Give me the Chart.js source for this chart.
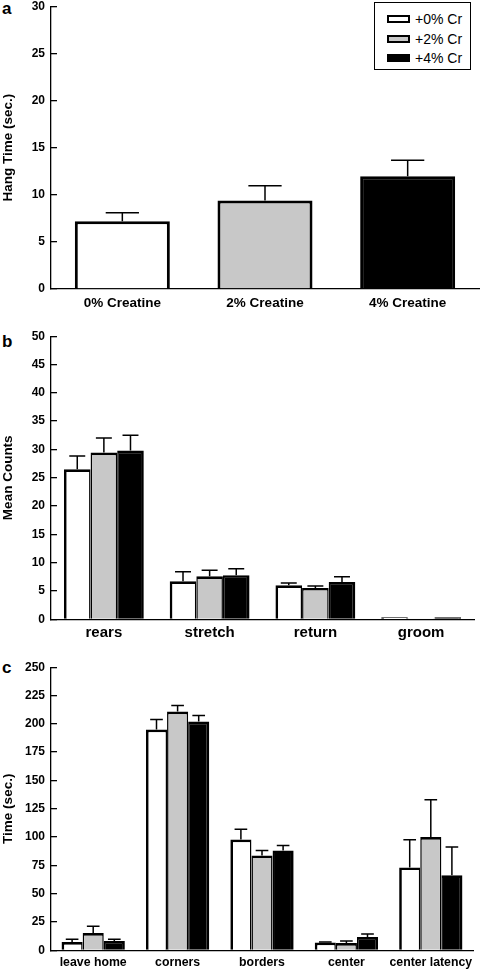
<!DOCTYPE html>
<html>
<head>
<meta charset="utf-8">
<script src="https://cdn.jsdelivr.net/npm/chart.js@4.4.1/dist/chart.umd.min.js"></script>
<style>
  html, body { margin: 0; padding: 0; background: #fff; }
  body { width: 480px; height: 970px; position: relative; overflow: hidden; font-family: "Liberation Sans", Arial, sans-serif; }
  .panel { position: absolute; left: 0; width: 480px; }
  .letter { position: absolute; left: 2px; font-size: 17px; font-weight: bold; line-height: 1; }
  #legend { position: absolute; left: 374px; top: 2px; width: 95px; height: 66px; border: 1.5px solid #000; background: #fff; }
  .row { position: absolute; left: 12px; height: 20px; font-size: 14px; display: flex; align-items: center; }
  .sw { width: 19px; height: 4px; border: 2px solid #000; margin-right: 5px; }
</style>
</head>
<body>
<div class="letter" style="top:0px">a</div>
<div class="letter" style="top:333px">b</div>
<div class="letter" style="top:659px">c</div>

<div class="panel" style="top:-13px;height:330px"><canvas id="chartA"></canvas></div>
<div class="panel" style="top:316.7px;height:330.3px"><canvas id="chartB"></canvas></div>
<div class="panel" style="top:647.7px;height:330.3px"><canvas id="chartC"></canvas></div>
<div id="legend"></div>

<script>
// series
const seriesNames = ['+0% Cr', '+2% Cr', '+4% Cr'];
const seriesColors = ['#ffffff', '#c8c8c8', '#000000'];

// panel a: hang time
const hangCategories = ['0% Creatine', '2% Creatine', '4% Creatine'];
const hangTime = [7.2, 9.4, 11.95];
const hangTimeErr = [0.9, 1.55, 1.7];

// panel b: behaviour counts
const behaviorCategories = ['rears', 'stretch', 'return', 'groom'];
const counts0 = [26.5, 6.7, 6.0, 0.35];
const counts2 = [29.45, 7.6, 5.55, 0.15];
const counts4 = [29.8, 7.8, 6.6, 0.35];
const counts0Err = [2.35, 1.7, 0.4, 0];
const counts2Err = [2.55, 1.05, 0.35, 0];
const counts4Err = [2.7, 1.15, 0.9, 0];

// panel c: open field times
const fieldCategories = ['leave home', 'corners', 'borders', 'center', 'center latency'];
const time0 = [7.3, 195, 97.9, 6.8, 73.2];
const time2 = [15.3, 210.9, 83.8, 6.5, 100];
const time4 = [8.2, 202, 88.2, 11.8, 66.2];
const time0Err = [2.4, 8.8, 8.9, 0.5, 24.5];
const time2Err = [5.9, 5.3, 4.4, 1.7, 33];
const time4Err = [1.6, 5.4, 4.4, 2.7, 25];

Chart.defaults.font.family = '"Liberation Sans", Arial, sans-serif';
Chart.defaults.color = '#000';

// draws upward error bars from each bar top
const errorBars = {
  id: 'errorBars',
  afterDatasetsDraw(chart, args, opts) {
    const ctx = chart.ctx;
    const y = chart.scales.y;
    ctx.save();
    ctx.strokeStyle = '#000';
    ctx.lineWidth = 1.5;
    chart.data.datasets.forEach((ds, i) => {
      if (!ds.errors) return;
      chart.getDatasetMeta(i).data.forEach((bar, j) => {
        const err = ds.errors[j];
        if (!err) return;
        const yTop = y.getPixelForValue(ds.data[j] + err);
        const half = bar.width * opts.cap / 2;
        ctx.beginPath();
        ctx.moveTo(bar.x, bar.y);
        ctx.lineTo(bar.x, yTop);
        ctx.moveTo(bar.x - half, yTop);
        ctx.lineTo(bar.x + half, yTop);
        ctx.stroke();
      });
    });
    ctx.restore();
  }
};

function yScale(max, step, title) {
  return {
    min: 0, max: max,
    ticks: { stepSize: step, font: { size: 12, weight: 'bold' }, color: '#000', padding: 12 },
    grid: { drawOnChartArea: false, drawTicks: true, tickLength: -6, color: '#000', lineWidth: 1.3 },
    border: { color: '#000', width: 1.3 },
    title: { display: true, text: title, font: { size: 13.5, weight: 'bold' }, color: '#000', padding: 0 },
    afterFit: s => { s.width = 51; }
  };
}

function xScale(size, pad) {
  return {
    ticks: { font: { size: size, weight: 'bold' }, color: '#000', padding: pad, autoSkip: false, maxRotation: 0 },
    grid: { display: false, drawTicks: false },
    border: { color: '#000', width: 1.3 },
    afterFit: s => { s.height = 28; }
  };
}

function groupedSets(values, errors, outer, inner) {
  return values.map((v, i) => ({
    label: seriesNames[i],
    data: v,
    errors: errors[i],
    backgroundColor: seriesColors[i],
    borderColor: '#000',
    borderWidth: {
      top: outer,
      left: i === 0 ? outer : inner,
      right: i === 2 ? outer : inner,
      bottom: 0
    },
    categoryPercentage: 0.755,
    barPercentage: 1
  }));
}

const common = {
  responsive: true,
  maintainAspectRatio: false,
  animation: false,
  plugins: { legend: { display: false }, tooltip: { enabled: false } }
};

new Chart(document.getElementById('chartA'), {
  type: 'bar',
  data: {
    labels: hangCategories,
    datasets: [{
      data: hangTime,
      errors: hangTimeErr,
      backgroundColor: seriesColors,
      borderColor: '#000',
      borderWidth: { top: 3, left: 3, right: 3, bottom: 0 },
      categoryPercentage: 0.666,
      barPercentage: 1
    }]
  },
  options: Object.assign({}, common, {
    layout: { padding: { top: 8, right: 1, bottom: 0, left: 0 } },
    scales: { x: xScale(13.5, 6), y: yScale(30, 5, 'Hang Time (sec.)') },
    plugins: Object.assign({}, common.plugins, { errorBars: { cap: 0.35 } })
  }),
  plugins: [errorBars]
});

new Chart(document.getElementById('chartB'), {
  type: 'bar',
  data: {
    labels: behaviorCategories,
    datasets: groupedSets([counts0, counts2, counts4], [counts0Err, counts2Err, counts4Err], 2.7, 1.5)
  },
  options: Object.assign({}, common, {
    layout: { padding: { top: 8, right: 6, bottom: 0, left: 0 } },
    scales: { x: xScale(15, 4.5), y: yScale(50, 5, 'Mean Counts') },
    plugins: Object.assign({}, common.plugins, { errorBars: { cap: 0.6 } })
  }),
  plugins: [errorBars]
});

const setsC = groupedSets([time0, time2, time4], [time0Err, time2Err, time4Err], 2.7, 1.5);
setsC.forEach(d => { d.categoryPercentage = 0.75; });
new Chart(document.getElementById('chartC'), {
  type: 'bar',
  data: { labels: fieldCategories, datasets: setsC },
  options: Object.assign({}, common, {
    layout: { padding: { top: 8, right: 7, bottom: 0, left: 0 } },
    scales: { x: xScale(12.3, 5), y: yScale(250, 25, 'Time (sec.)') },
    plugins: Object.assign({}, common.plugins, { errorBars: { cap: 0.6 } })
  }),
  plugins: [errorBars]
});

// legend box
const legend = document.getElementById('legend');
seriesNames.forEach((name, i) => {
  const row = document.createElement('div');
  row.className = 'row';
  row.style.top = (6 + i * 19.7) + 'px';
  const sw = document.createElement('div');
  sw.className = 'sw';
  sw.style.background = seriesColors[i];
  row.appendChild(sw);
  row.appendChild(document.createTextNode(name));
  legend.appendChild(row);
});
</script>
</body>
</html>
